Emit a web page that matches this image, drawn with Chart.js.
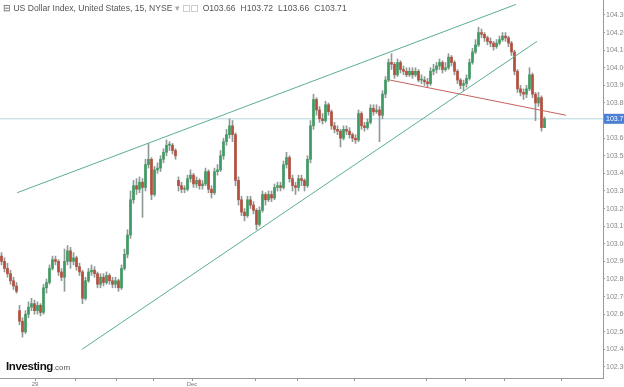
<!DOCTYPE html>
<html>
<head>
<meta charset="utf-8">
<script src="https://cdn.jsdelivr.net/npm/chart.js@4.4.1/dist/chart.umd.min.js"></script>
<style>
  html, body { margin: 0; padding: 0; background: #fff; }
  #wrap { position: relative; width: 624px; height: 387px; }
  #header {
    position: absolute; left: 3px; top: 3px;
    font: 8.6px "Liberation Sans", Arial, sans-serif; color: #555;
    white-space: nowrap;
  }
  #header .ohlc { margin-left: 2px; }
  #header .ohlc span { margin-right: 5px; }
  #header .ico { display: inline-block; width: 5px; height: 5px; border: 1px solid #ccc; margin-left: 1px; vertical-align: middle; }
  #logo {
    position: absolute; left: 6px; top: 360px;
    font: bold 11.5px "Liberation Sans", Arial, sans-serif; color: #111; letter-spacing: -0.4px;
  }
  #logo small { font-weight: normal; font-size: 8px; color: #555; letter-spacing: 0; }
</style>
</head>
<body>
<div id="wrap">
  <canvas id="chart"></canvas>
  <div id="header">⊟ US Dollar Index, United States, 15, NYSE <span style="color:#aaa">▾</span> <span class="ico"></span><span class="ico"></span>
    <span class="ohlc"><span>O103.66</span><span>H103.72</span><span>L103.66</span><span>C103.71</span></span></div>
  <div id="logo">Investing<small>.com</small></div>
</div>
<script>
// ==================== DATOS ====================
const opens = [
  102.93, 102.90, 102.86, 102.83, 102.79, 102.76, 102.62, 102.56, 102.50, 102.60,
  102.64, 102.66, 102.62, 102.65, 102.61, 102.75, 102.78, 102.86, 102.91, 102.90,
  102.84, 102.81, 102.90, 102.96, 102.90, 102.92, 102.87, 102.84, 102.69, 102.79,
  102.84, 102.85, 102.83, 102.77, 102.81, 102.78, 102.82, 102.79, 102.77, 102.79,
  102.75, 102.86, 102.94, 103.05, 103.25, 103.33, 103.31, 103.35, 103.32, 103.45,
  103.48, 103.28, 103.42, 103.43, 103.48, 103.52, 103.56, 103.56, 103.53, 103.36,
  103.33, 103.31, 103.31, 103.37, 103.39, 103.34, 103.36, 103.33, 103.34, 103.41,
  103.31, 103.29, 103.41, 103.42, 103.50, 103.58, 103.62, 103.67, 103.62, 103.36,
  103.25, 103.18, 103.16, 103.25, 103.22, 103.19, 103.11, 103.19, 103.28, 103.25,
  103.28, 103.26, 103.32, 103.33, 103.32, 103.45, 103.49, 103.37, 103.33, 103.32,
  103.37, 103.36, 103.33, 103.48, 103.67, 103.82, 103.76, 103.71, 103.70, 103.79,
  103.75, 103.67, 103.65, 103.64, 103.60, 103.65, 103.64, 103.62, 103.60, 103.59,
  103.74, 103.67, 103.66, 103.69, 103.77, 103.75, 103.76, 103.73, 103.85, 103.93,
  104.03, 104.02, 103.96, 104.03, 103.99, 103.98, 103.96, 103.98, 103.96, 103.98,
  103.93, 103.93, 103.92, 103.91, 103.98, 103.99, 104.01, 104.03, 103.99, 104.00,
  104.06, 104.03, 103.98, 103.93, 103.90, 103.91, 103.94, 104.03, 104.09, 104.13,
  104.20, 104.19, 104.17, 104.15, 104.14, 104.12, 104.14, 104.16, 104.18, 104.17,
  104.14, 104.09, 103.98, 103.88, 103.86, 103.85, 103.88, 103.96, 103.85, 103.80,
  103.83, 103.66
];
const highs = [
  102.95, 102.92, 102.89, 102.85, 102.81, 102.78, 102.65, 102.58, 102.62, 102.67,
  102.69, 102.68, 102.67, 102.66, 102.77, 102.80, 102.88, 102.93, 102.93, 102.91,
  102.86, 102.97, 102.99, 102.98, 102.95, 102.93, 102.89, 102.85, 102.81, 102.86,
  102.88, 102.87, 102.84, 102.83, 102.83, 102.84, 102.83, 102.81, 102.81, 102.80,
  102.88, 102.97, 103.08, 103.30, 103.36, 103.37, 103.38, 103.37, 103.48, 103.57,
  103.49, 103.44, 103.46, 103.50, 103.54, 103.59, 103.58, 103.57, 103.54, 103.38,
  103.35, 103.33, 103.39, 103.42, 103.40, 103.38, 103.37, 103.36, 103.43, 103.42,
  103.33, 103.43, 103.45, 103.53, 103.60, 103.65, 103.71, 103.70, 103.63, 103.38,
  103.27, 103.20, 103.27, 103.27, 103.24, 103.20, 103.21, 103.30, 103.29, 103.30,
  103.30, 103.34, 103.35, 103.35, 103.47, 103.52, 103.50, 103.39, 103.35, 103.39,
  103.39, 103.37, 103.50, 103.70, 103.85, 103.83, 103.78, 103.74, 103.81, 103.80,
  103.76, 103.69, 103.67, 103.65, 103.67, 103.67, 103.66, 103.63, 103.62, 103.76,
  103.75, 103.69, 103.71, 103.79, 103.79, 103.79, 103.78, 103.87, 103.95, 104.05,
  104.08, 104.03, 104.05, 104.04, 104.01, 104.00, 104.00, 104.00, 104.00, 103.99,
  103.96, 103.95, 103.94, 104.00, 104.02, 104.03, 104.05, 104.04, 104.03, 104.08,
  104.07, 104.04, 103.99, 103.94, 103.93, 103.96, 104.05, 104.11, 104.16, 104.23,
  104.22, 104.20, 104.18, 104.17, 104.15, 104.16, 104.18, 104.20, 104.20, 104.18,
  104.15, 104.10, 103.99, 103.90, 103.88, 103.90, 104.00, 103.97, 103.86, 103.86,
  103.84, 103.72
];
const lows = [
  102.88, 102.84, 102.81, 102.77, 102.74, 102.72, 102.54, 102.47, 102.49, 102.58,
  102.62, 102.60, 102.60, 102.59, 102.60, 102.72, 102.77, 102.85, 102.88, 102.82,
  102.79, 102.73, 102.88, 102.86, 102.88, 102.85, 102.82, 102.66, 102.68, 102.78,
  102.82, 102.81, 102.75, 102.75, 102.76, 102.77, 102.77, 102.75, 102.75, 102.73,
  102.74, 102.85, 102.92, 103.03, 103.23, 103.28, 103.29, 103.15, 103.30, 103.43,
  103.25, 103.27, 103.40, 103.41, 103.46, 103.50, 103.53, 103.51, 103.48, 103.30,
  103.29, 103.29, 103.30, 103.35, 103.32, 103.32, 103.31, 103.31, 103.33, 103.29,
  103.26, 103.28, 103.39, 103.41, 103.48, 103.56, 103.60, 103.58, 103.33, 103.22,
  103.16, 103.13, 103.15, 103.20, 103.17, 103.08, 103.10, 103.18, 103.22, 103.24,
  103.24, 103.25, 103.30, 103.30, 103.31, 103.43, 103.35, 103.30, 103.28, 103.30,
  103.33, 103.30, 103.32, 103.46, 103.65, 103.73, 103.69, 103.68, 103.69, 103.73,
  103.65, 103.63, 103.62, 103.55, 103.59, 103.62, 103.60, 103.58, 103.57, 103.58,
  103.65, 103.64, 103.65, 103.68, 103.73, 103.74, 103.58, 103.71, 103.83, 103.92,
  103.99, 103.94, 103.95, 103.97, 103.96, 103.95, 103.95, 103.94, 103.95, 103.92,
  103.91, 103.90, 103.89, 103.90, 103.96, 103.97, 103.99, 103.97, 103.98, 103.99,
  104.01, 103.96, 103.91, 103.88, 103.87, 103.89, 103.93, 104.02, 104.08, 104.12,
  104.17, 104.15, 104.13, 104.12, 104.10, 104.11, 104.13, 104.15, 104.15, 104.12,
  104.07, 103.96, 103.86, 103.84, 103.82, 103.83, 103.87, 103.83, 103.70, 103.78,
  103.64, 103.66
];
const closes = [
  102.90, 102.86, 102.83, 102.79, 102.76, 102.73, 102.56, 102.50, 102.60, 102.64,
  102.66, 102.62, 102.65, 102.61, 102.75, 102.78, 102.86, 102.91, 102.90, 102.84,
  102.81, 102.90, 102.96, 102.90, 102.92, 102.87, 102.84, 102.69, 102.79, 102.84,
  102.85, 102.83, 102.77, 102.81, 102.78, 102.82, 102.79, 102.77, 102.79, 102.75,
  102.86, 102.94, 103.05, 103.25, 103.33, 103.31, 103.35, 103.32, 103.45, 103.48,
  103.28, 103.42, 103.43, 103.48, 103.52, 103.56, 103.56, 103.53, 103.50, 103.33,
  103.31, 103.31, 103.37, 103.39, 103.34, 103.36, 103.33, 103.34, 103.41, 103.31,
  103.29, 103.41, 103.42, 103.50, 103.58, 103.62, 103.67, 103.62, 103.36, 103.25,
  103.18, 103.16, 103.25, 103.22, 103.19, 103.11, 103.19, 103.28, 103.25, 103.28,
  103.26, 103.32, 103.33, 103.32, 103.45, 103.49, 103.37, 103.33, 103.32, 103.37,
  103.36, 103.33, 103.48, 103.67, 103.82, 103.76, 103.71, 103.70, 103.79, 103.75,
  103.67, 103.65, 103.64, 103.60, 103.65, 103.64, 103.62, 103.60, 103.59, 103.74,
  103.67, 103.66, 103.69, 103.77, 103.75, 103.76, 103.73, 103.85, 103.93, 104.03,
  104.02, 103.96, 104.03, 103.99, 103.98, 103.96, 103.98, 103.96, 103.98, 103.93,
  103.93, 103.92, 103.91, 103.98, 103.99, 104.01, 104.03, 103.99, 104.00, 104.06,
  104.03, 103.98, 103.93, 103.90, 103.91, 103.94, 104.03, 104.09, 104.13, 104.20,
  104.19, 104.17, 104.15, 104.14, 104.12, 104.14, 104.16, 104.18, 104.17, 104.14,
  104.09, 103.98, 103.88, 103.86, 103.85, 103.88, 103.96, 103.85, 103.80, 103.83,
  103.66, 103.71
];

// trend lines (x = candle index, y = price)
const upperChannel = [{ x: 5.2, y: 103.29 }, { x: 171.5, y: 104.36 }];
const lowerChannel = [{ x: 26.8, y: 102.40 }, { x: 178.5, y: 104.15 }];
const redLine = [{ x: 129.5, y: 103.93 }, { x: 188.2, y: 103.73 }];
const lastPrice = 103.71;

// axis ticks
const xTickPos = [11.17, 24.83, 38.17, 50.83, 63.5, 84.5, 98.83, 117.83, 141.5, 154.83, 167.83, 186.83];
const xTickText = ['29', '', '', '', 'Dec', '', '', '', '', '', '', ''];
const yTicks = [102.30, 102.40, 102.50, 102.60, 102.70, 102.80, 102.90, 103.00, 103.10,
  103.20, 103.30, 103.40, 103.50, 103.60, 103.70, 103.80, 103.90, 104.00, 104.10, 104.20, 104.30];

// ==================== COLORES ====================
const UP = '#3f9b63';
const DOWN = '#b44e3d';
const WICK = '#8f9a96';

const bodies = closes.map((c, i) => ({ x: i, y: [opens[i], c] }));
const wicks = closes.map((c, i) => ({ x: i, y: [lows[i], highs[i]] }));
const bodyColors = closes.map((c, i) => c >= opens[i] ? UP : DOWN);

const lastPricePlugin = {
  id: 'lastPrice',
  afterDraw(chart) {
    const ctx = chart.ctx;
    const y = chart.scales.y.getPixelForValue(lastPrice);
    const x0 = chart.chartArea.right;
    ctx.save();
    ctx.fillStyle = '#4a7fd6';
    ctx.fillRect(x0 + 1, y - 5, 24, 10);
    ctx.fillStyle = '#fff';
    ctx.font = '7px "Liberation Sans", Arial, sans-serif';
    ctx.textBaseline = 'middle';
    ctx.fillText(lastPrice.toFixed(2), x0 + 3, y + 0.5);
    ctx.restore();
  }
};

const ctx = document.getElementById('chart').getContext('2d');
new Chart(ctx, {
  type: 'bar',
  data: {
    datasets: [
      {
        type: 'line', data: upperChannel, borderColor: '#5aae8e', borderWidth: 1,
        pointRadius: 0, pointHoverRadius: 0, order: 0
      },
      {
        type: 'line', data: lowerChannel, borderColor: '#5aae8e', borderWidth: 1,
        pointRadius: 0, pointHoverRadius: 0, order: 0
      },
      {
        type: 'line', data: redLine, borderColor: '#c4625c', borderWidth: 1,
        pointRadius: 0, pointHoverRadius: 0, order: 0
      },
      {
        type: 'line', data: [{ x: -0.5, y: lastPrice }, { x: 200.5, y: lastPrice }],
        borderColor: '#b4d6df', borderWidth: 1, pointRadius: 0, pointHoverRadius: 0, order: 3
      },
      {
        data: wicks, backgroundColor: WICK, barThickness: 1, grouped: false, order: 2
      },
      {
        data: bodies, backgroundColor: bodyColors, barThickness: 2, minBarLength: 1,
        grouped: false, order: 1
      }
    ]
  },
  options: {
    responsive: true,
    maintainAspectRatio: false,
    animation: false,
    layout: { padding: 0, autoPadding: false },
    plugins: { legend: { display: false }, tooltip: { enabled: false } },
    scales: {
      x: {
        type: 'linear',
        offset: false,
        min: -0.5,
        max: 200.5,
        afterBuildTicks: (scale) => { scale.ticks = xTickPos.map(v => ({ value: v })); },
        afterFit: (scale) => { scale.height = 9; scale.paddingLeft = 0; scale.paddingRight = 0; },
        ticks: {
          autoSkip: false, maxRotation: 0, padding: 0,
          color: '#777', font: { size: 6, family: '"Liberation Sans", Arial, sans-serif' },
          callback: (v, i) => xTickText[i]
        },
        grid: { drawOnChartArea: false, drawTicks: true, tickLength: 3, color: '#999', offset: false },
        border: { display: true, color: '#999' }
      },
      y: {
        position: 'right',
        min: 102.2375,
        max: 104.385,
        afterBuildTicks: (scale) => { scale.ticks = yTicks.map(v => ({ value: v })); },
        afterFit: (scale) => { scale.width = 21; scale.paddingTop = 0; scale.paddingBottom = 0; },
        ticks: {
          padding: 1,
          color: '#888', font: { size: 7, family: '"Liberation Sans", Arial, sans-serif' },
          callback: (v) => v.toFixed(2)
        },
        grid: { drawOnChartArea: false, drawTicks: true, tickLength: 2, color: '#999' },
        border: { display: true, color: '#999' }
      }
    }
  },
  plugins: [lastPricePlugin]
});
</script>
</body>
</html>
